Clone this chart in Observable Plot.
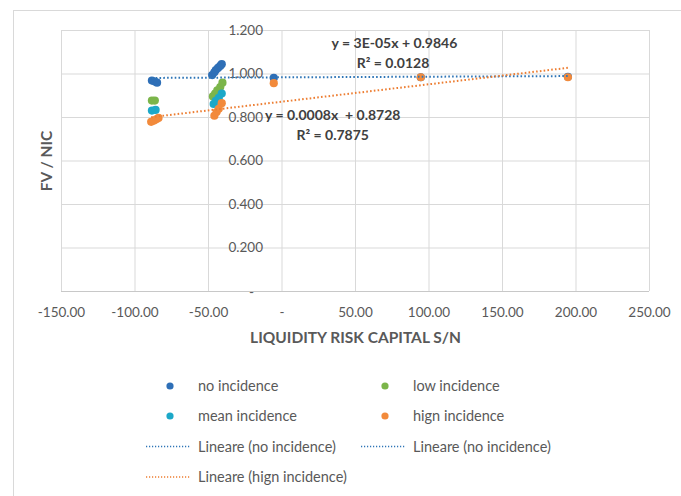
<!DOCTYPE html>
<html>
<head>
<meta charset="utf-8">
<script src="https://cdn.jsdelivr.net/npm/d3@7"></script>
<script src="https://cdn.jsdelivr.net/npm/@observablehq/plot@0.6"></script>
<style>
  html, body { margin: 0; padding: 0; background: #fff; }
  #wrap { position: relative; width: 681px; height: 496px; overflow: hidden; font-family: Lato, "Open Sans", sans-serif; }
  #frame { position: absolute; left: 13px; top: 10px; width: 700px; height: 520px; border-left: 1px solid #d9d9d9; border-top: 1px solid #d9d9d9; pointer-events: none; }
  svg { display: block; }
</style>
</head>
<body>
<div id="wrap"><div id="frame"></div><div id="chart"></div><div id="legend"></div></div>
<script>
// ---- data ----
const seriesNames = ["no incidence", "low incidence", "mean incidence", "hign incidence"];
const seriesColors = ["#2e6fb7", "#7bb54a", "#1ca8c8", "#f28a3b"];

const noX = [-88.5, -86.5, -85, -47.5, -46, -45, -43.5, -42, -41, -5.6, 94.4, 194.5];
const noY = [0.970, 0.965, 0.960, 0.995, 1.008, 1.018, 1.028, 1.037, 1.045, 0.982, 0.985, 0.987];

const lowX = [-88.5, -86.5, -47, -45.5, -44, -42, -40.5];
const lowY = [0.878, 0.878, 0.897, 0.910, 0.925, 0.940, 0.960];

const meanX = [-88.5, -86, -46.5, -45, -43, -41];
const meanY = [0.832, 0.835, 0.862, 0.876, 0.890, 0.910];

const highX = [-89, -87, -85.5, -84, -46, -44.5, -43, -41, -5.6, 94.4, 194.5];
const highY = [0.780, 0.786, 0.792, 0.798, 0.808, 0.825, 0.840, 0.866, 0.958, 0.985, 0.985];

// trend lines (Excel linear fits, as labelled)
const trendNames = ["Lineare (no incidence)", "Lineare (hign incidence)"];
const trendSlopes = [0.00003, 0.0008];
const trendIntercepts = [0.9846, 0.8728];
const trendEquations = ["y = 3E-05x + 0.9846", "y = 0.0008x  + 0.8728"];
const trendR2 = ["R² = 0.0128", "R² = 0.7875"];

const xTicks = [-150, -100, -50, 0, 50, 100, 150, 200, 250];
const xTickLabels = ["-150.00", "-100.00", "-50.00", "-", "50.00", "100.00", "150.00", "200.00", "250.00"];
const yTicks = [0.2, 0.4, 0.6, 0.8, 1.0, 1.2];
const yTickLabels = ["0.200", "0.400", "0.600", "0.800", "1.000", "1.200"];
const yZeroLabel = "-";

const xTitle = "LIQUIDITY RISK CAPITAL S/N";
const yTitle = "FV / NIC";

// ---- build tables ----
const seriesX = [noX, lowX, meanX, highX];
const seriesY = [noY, lowY, meanY, highY];
const points = [];
seriesNames.forEach((name, i) => {
  seriesX[i].forEach((x, j) => points.push({series: name, x, y: seriesY[i][j]}));
});
const trendSeries = [noX, highX];
const trendColors = ["#2e75b6", "#ed7d31"];
const trendLines = [];
trendSeries.forEach((xs, i) => {
  const [x0, x1] = d3.extent(xs);
  for (const x of [x0, x1]) trendLines.push({trend: trendNames[i], x, y: trendSlopes[i] * x + trendIntercepts[i]});
});

const font = "Lato, 'Open Sans', sans-serif";
const grid = "#d9d9d9";
const tickFill = "#595959";

const plot = Plot.plot({
  width: 681,
  height: 355,
  marginLeft: 61,
  marginRight: 32,
  marginTop: 30,
  marginBottom: 64,
  style: {fontFamily: font, background: "transparent"},
  x: {domain: [-150, 250], axis: null},
  y: {domain: [0, 1.2], axis: null},
  color: {domain: seriesNames, range: seriesColors},
  marks: [
    Plot.ruleX(xTicks, {stroke: grid, strokeWidth: 1}),
    Plot.ruleY(yTicks, {stroke: grid, strokeWidth: 1}),
    Plot.ruleY([0], {stroke: "#c8c8c8", strokeWidth: 1}),
    // x tick labels
    Plot.text(xTicks.map((v, i) => ({v, label: xTickLabels[i]})), {
      x: "v", y: () => 0, text: "label", dy: 21, lineAnchor: "middle", textAnchor: "middle",
      fontSize: 13.5, fill: tickFill
    }),
    // y tick labels drawn at x = 0 (axis crosses there)
    Plot.text(yTicks.map((v, i) => ({v, label: yTickLabels[i]})), {
      x: () => 0, y: "v", text: "label", textAnchor: "end", lineAnchor: "middle", dx: -19,
      fontSize: 13.5, fill: tickFill
    }),
    Plot.text([yZeroLabel], {x: () => 0, y: () => 0, text: (d) => d, textAnchor: "end", lineAnchor: "middle", dx: -28, dy: 1, fontSize: 13.5, fill: tickFill}),
    // axis titles
    Plot.text([xTitle], {x: () => 50, y: () => 0, dy: 47, lineAnchor: "middle", textAnchor: "middle", text: (d) => d, fontSize: 15.5, fontWeight: "bold", fill: tickFill}),
    Plot.text([yTitle], {x: () => -150, y: () => 0.6, dx: -14, rotate: -90, lineAnchor: "middle", textAnchor: "middle", text: (d) => d, fontSize: 15.5, fontWeight: "bold", fill: tickFill}),
    // points
    Plot.dot(points, {x: "x", y: "y", fill: "series", r: 4.1, stroke: "none"}),
    // trend lines
    Plot.line(trendLines, {x: "x", y: "y", z: "trend", stroke: (d) => trendColors[trendNames.indexOf(d.trend)],
      strokeWidth: 2, strokeDasharray: "1.6,2.2", strokeLinecap: "butt"}),
    // equation labels
    Plot.text([trendEquations[0]], {x: () => 76.5, y: () => 1.142, text: (d) => d, fontSize: 14, fontWeight: "bold", fill: "#404040"}),
    Plot.text([trendR2[0]], {x: () => 75.5, y: () => 1.050, text: (d) => d, fontSize: 14, fontWeight: "bold", fill: "#404040"}),
    Plot.text([trendEquations[1]], {x: () => 34.5, y: () => 0.809, text: (d) => d, fontSize: 14, fontWeight: "bold", fill: "#404040"}),
    Plot.text([trendR2[1]], {x: () => 34.5, y: () => 0.717, text: (d) => d, fontSize: 14, fontWeight: "bold", fill: "#404040"})
  ]
});
document.getElementById("chart").appendChild(plot);

// ---- legend (below the plot) ----
const legendItems = [
  {type: "dot", color: seriesColors[0], label: seriesNames[0], col: 0, row: 0},
  {type: "dot", color: seriesColors[1], label: seriesNames[1], col: 1, row: 0},
  {type: "dot", color: seriesColors[2], label: seriesNames[2], col: 0, row: 1},
  {type: "dot", color: seriesColors[3], label: seriesNames[3], col: 1, row: 1},
  {type: "line", color: trendColors[0], label: trendNames[0], col: 0, row: 2},
  {type: "line", color: trendColors[0], label: trendNames[0], col: 1, row: 2},
  {type: "line", color: trendColors[1], label: trendNames[1], col: 0, row: 3}
];
const colX = [198, 413];
const rowY = [31, 61, 91.5, 122];
const leg = d3.select("#legend").append("svg").attr("width", 681).attr("height", 141)
  .style("font-family", font);
for (const it of legendItems) {
  const tx = colX[it.col], ty = rowY[it.row];
  if (it.type === "dot") {
    leg.append("circle").attr("cx", tx - 28).attr("cy", ty).attr("r", 3.6).attr("fill", it.color);
  } else {
    leg.append("line").attr("x1", tx - 52).attr("x2", tx - 7).attr("y1", ty).attr("y2", ty)
      .attr("stroke", it.color).attr("stroke-width", 1.3).attr("stroke-dasharray", "1.2,1.8");
  }
  leg.append("text").attr("x", tx).attr("y", ty).attr("dy", "0.35em")
    .attr("font-size", 14.5).attr("fill", "#595959").text(it.label);
}
</script>
</body>
</html>
